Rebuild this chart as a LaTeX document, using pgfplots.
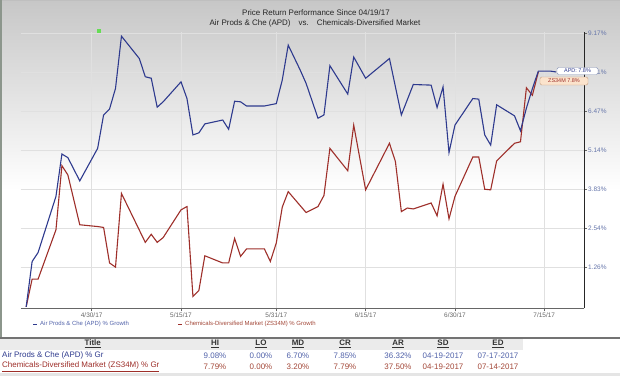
\documentclass[border=0pt]{standalone}
\usepackage{pgfplots}
\pgfplotsset{compat=1.18}
\usepackage{fontspec}
\setmainfont{Liberation Sans}
\definecolor{apd}{HTML}{2E3A8E}
\definecolor{zs}{HTML}{9E2F2A}
\definecolor{apdtxt}{HTML}{5263AA}
\definecolor{zstxt}{HTML}{A4493A}
\definecolor{ytc}{HTML}{6575AA}
\definecolor{greenpt}{HTML}{66DD55}
\definecolor{frame}{HTML}{8C968C}
\definecolor{apdbox}{HTML}{8A96B8}
\definecolor{zsbox}{HTML}{C8A080}
\definecolor{zsfill}{HTML}{FBE3CC}

\pgfplotstableread{
d u
0 0
1 1.52
2 1.82
5 3.70
6 5.12
7 5.00
9 4.22
12 5.31
13 6.43
14 6.63
15 7.32
16 9.07
19 8.32
20 7.71
21 7.66
22 6.69
23 6.87
26 7.54
27 6.98
28 5.76
29 5.83
30 6.13
33 6.26
34 5.95
35 6.89
36 6.87
37 6.73
40 6.73
42 6.81
43 7.60
44 8.77
46 7.94
47 7.49
49 6.32
50 6.43
51 8.08
54 7.13
55 8.37
57 7.66
61 8.32
63 6.43
65 7.45
68 7.43
69 6.68
70 7.37
71 5.17
72 6.09
75 6.98
76 6.96
77 5.76
78 5.42
79 6.77
82 6.40
83 5.90
84 6.66
85 7.31
86 7.90
87 7.90
88 7.90
89 7.87
}\apdtable

\pgfplotstableread{
d u
0 0
1 0.93
2 0.93
5 2.58
6 4.73
7 4.42
9 2.75
12 2.69
13 2.66
14 1.47
15 1.33
16 3.80
20 2.16
21 2.43
22 2.16
23 2.32
26 3.25
27 3.36
28 0.35
29 0.55
30 1.71
33 1.47
34 1.47
35 2.29
36 1.69
37 1.94
40 1.94
41 1.52
42 2.14
43 3.34
44 3.86
47 3.16
49 3.36
50 3.73
51 5.31
54 4.56
55 6.09
57 3.92
61 5.48
62 4.87
63 3.19
64 3.31
65 3.28
68 3.48
69 3.05
70 4.11
71 2.95
72 3.70
75 5.02
76 5.02
77 3.94
78 3.92
79 4.89
82 5.48
83 5.53
84 7.34
85 7.09
86 7.87
}\zstable

\begin{document}
\begin{tikzpicture}[x=1bp,y=1bp]
\path[use as bounding box] (0,0) rectangle (620,376);
\fill[white] (0,0) rectangle (620,376);
\shade[top color=black!22, bottom color=white] (0,186) rectangle (620,376);
\draw[black!25, line width=1bp] (0,375.5) -- (620,375.5);
\draw[frame, line width=1.5bp] (0.75,38) -- (0.75,376);

\node[font=\fontsize{8}{9.6}\selectfont, text=black!85] at (316,363.7) {Price Return Performance Since 04/19/17};
\node[font=\fontsize{8}{9.6}\selectfont, text=black!85] at (315,353) {Air Prods \& Che (APD)\quad vs.\quad Chemicals-Diversified Market};

\begin{axis}[
  at={(20.7bp,67.7bp)}, anchor=south west,
  scale only axis, width=563.3bp, height=276.3bp,
  xmin=-0.92, xmax=93.67, ymin=-0.05, ymax=9.21,
  axis x line*=bottom, axis y line*=right,
  x axis line style={draw=black!60, line width=1.3bp},
  y axis line style={draw=black!85, line width=0.9bp},
  xtick={11,26,42,57,72,87},
  xticklabels={4/30/17,5/15/17,5/31/17,6/15/17,6/30/17,7/15/17},
  ytick={1.31,2.62,3.93,5.24,6.55,7.86,9.17},
  yticklabels={1.26\%,2.54\%,3.83\%,5.14\%,6.47\%,7.81\%,9.17\%},
  grid=major, major grid style={draw=black!12, line width=0.6bp},
  tick style={draw=black!60, line width=0.5bp},
  major tick length=3bp, tick align=outside,
  xticklabel style={font=\fontsize{6.5}{7}\selectfont, text=black!60, inner sep=1bp},
  yticklabel style={font=\fontsize{6.5}{7}\selectfont, text=ytc, inner sep=1bp},
  clip=false,
]
\addplot[zs, line width=1.1bp] table[x=d, y=u] {\zstable};
\addplot[apd, line width=1.1bp] table[x=d, y=u] {\apdtable};
\addplot[only marks, mark=square*, mark size=1.4bp, mark options={fill=greenpt, draw=greenpt}] coordinates {(12.17,9.25)};
\end{axis}

% end labels
\node[draw=apdbox, fill=white, rounded corners=1.5bp, inner sep=1bp, font=\fontsize{5.5}{6}\selectfont, text=apd, minimum width=41bp, minimum height=7bp] at (577.5,305) {APD: 7.8\%};
\node[draw=zsbox, fill=zsfill, rounded corners=1.5bp, inner sep=1bp, font=\fontsize{5.5}{6}\selectfont, text=zs, minimum width=48bp, minimum height=8bp] at (564,295) {ZS34M 7.8\%};

% legend
\draw[apd, line width=1bp] (33,52) -- (37,52);
\node[anchor=west, font=\fontsize{6}{7}\selectfont, text=apdtxt, inner sep=0pt] at (40,52) {Air Prods \& Che (APD) \% Growth};
\draw[zs, line width=1bp] (178,52) -- (182,52);
\node[anchor=west, font=\fontsize{6}{7}\selectfont, text=zstxt, inner sep=0pt] at (185,52) {Chemicals-Diversified Market (ZS34M) \% Growth};

% table
\draw[black!55, line width=1.6bp] (0,38) -- (620,38);
\fill[black!8] (0,26) rectangle (523,37.2);
\fill[black!10] (0,0) rectangle (620,3);
\begin{scope}[every node/.style={font=\fontsize{8}{9}\selectfont, inner sep=0pt}]
\node[text=black!80] at (92.7,32) {\textbf{\underline{Title}}};
\node[text=black!80] at (215,32) {\textbf{\underline{HI}}};
\node[text=black!80] at (261,32) {\textbf{\underline{LO}}};
\node[text=black!80] at (298,32) {\textbf{\underline{MD}}};
\node[text=black!80] at (345,32) {\textbf{\underline{CR}}};
\node[text=black!80] at (398,32) {\textbf{\underline{AR}}};
\node[text=black!80] at (443,32) {\textbf{\underline{SD}}};
\node[text=black!80] at (498,32) {\textbf{\underline{ED}}};
\node[anchor=west, text=apd] at (2,20.3) {Air Prods \& Che (APD) \% Gr};
\node[text=apdtxt] at (215,20.3) {9.08\%};
\node[text=apdtxt] at (261,20.3) {0.00\%};
\node[text=apdtxt] at (298,20.3) {6.70\%};
\node[text=apdtxt] at (345,20.3) {7.85\%};
\node[text=apdtxt] at (398,20.3) {36.32\%};
\node[text=apdtxt] at (443,20.3) {04-19-2017};
\node[text=apdtxt] at (498,20.3) {07-17-2017};
\node[anchor=west, text=zs] at (2,9.3) {\underline{Chemicals-Diversified Market (ZS34M) \% Gr}};
\node[text=zstxt] at (215,9.3) {7.79\%};
\node[text=zstxt] at (261,9.3) {0.00\%};
\node[text=zstxt] at (298,9.3) {3.20\%};
\node[text=zstxt] at (345,9.3) {7.79\%};
\node[text=zstxt] at (398,9.3) {37.50\%};
\node[text=zstxt] at (443,9.3) {04-19-2017};
\node[text=zstxt] at (498,9.3) {07-14-2017};
\end{scope}
\end{tikzpicture}
\end{document}
